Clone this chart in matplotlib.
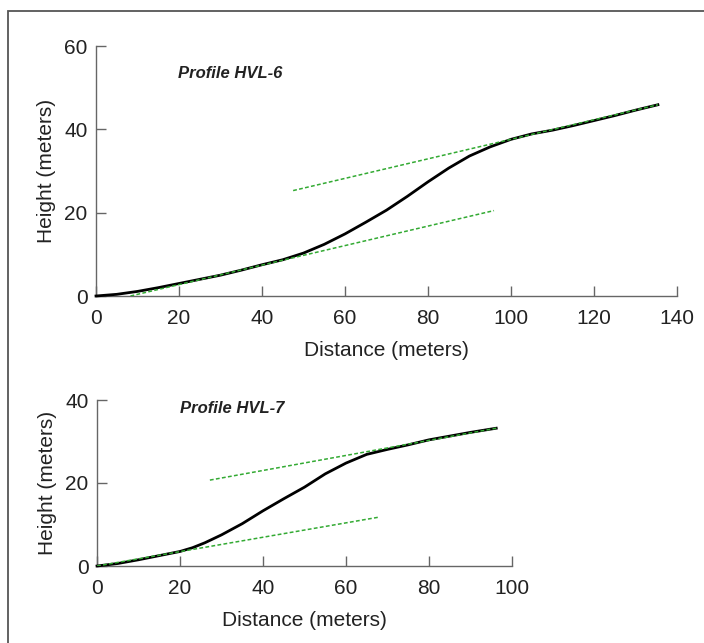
import numpy as np
import matplotlib
matplotlib.use('Agg')
import matplotlib.pyplot as plt
from matplotlib.patches import Rectangle

# Profile HVL-6
dist6 = [0, 5, 10, 15, 20, 25, 30, 35, 40, 45, 50, 55, 60, 65, 70, 75, 80, 85,
         90, 95, 100, 105, 110, 115, 120, 125, 130, 135.4]
height6 = [0, 0.4, 1.1, 2.0, 3.0, 4.0, 5.0, 6.2, 7.5, 8.7, 10.3, 12.4, 14.9, 17.7, 20.6,
           23.9, 27.4, 30.7, 33.6, 35.8, 37.6, 38.9, 39.8, 40.9, 42.1, 43.3, 44.6, 45.9]
upper6_x = [47.5, 135.4]
upper6_y = [25.3, 45.9]
lower6_x = [8.3, 95.9]
lower6_y = [0.0, 20.5]

# Profile HVL-7
dist7 = [0, 5, 10, 15, 20, 23, 26, 30, 35, 40, 45, 50, 55, 60, 65, 70, 75, 80, 85, 90, 96.2]
height7 = [0, 0.6, 1.5, 2.5, 3.5, 4.4, 5.6, 7.5, 10.2, 13.3, 16.2, 19.0, 22.2, 24.8, 26.9,
           28.1, 29.2, 30.4, 31.3, 32.2, 33.2]
upper7_x = [27.2, 96.2]
upper7_y = [20.7, 33.2]
lower7_x = [0, 68.1]
lower7_y = [0, 11.8]

xticks6 = [0, 20, 40, 60, 80, 100, 120, 140]
yticks6 = [0, 20, 40, 60]
xticks7 = [0, 20, 40, 60, 80, 100]
yticks7 = [0, 20, 40]

plt.rcParams['font.family'] = ['Liberation Sans', 'DejaVu Sans']

fig = plt.figure(figsize=(7.04, 6.43), dpi=100)
# grey frame, open at right and bottom like the source image
fig.patches.append(Rectangle((8 / 704, -0.1), 1.2, 1 - 11 / 643 + 0.1, transform=fig.transFigure,
                             fill=False, edgecolor='#555555', linewidth=1.3))

ax1 = fig.add_axes([96 / 704, 1 - 296 / 643, 581 / 704, 250 / 643])
ax2 = fig.add_axes([97 / 704, 1 - 566 / 643, 415 / 704, 166 / 643])

def style_axes(ax, xticks, yticks, title, tx, ty):
    for s in ['top', 'right']:
        ax.spines[s].set_visible(False)
    for s in ['left', 'bottom']:
        ax.spines[s].set_color('#666666')
        ax.spines[s].set_linewidth(1.0)
    ax.set_xlim(xticks[0], xticks[-1])
    ax.set_ylim(yticks[0], yticks[-1])
    ax.set_xticks(xticks)
    ax.set_yticks(yticks)
    ax.tick_params(direction='in', length=7.5, width=1.0, color='#666666',
                   labelsize=15, labelcolor='#222222')
    ax.tick_params(axis='x', pad=9)
    ax.tick_params(axis='y', pad=6)
    ax.set_xlabel('Distance (meters)', fontsize=15, color='#222222', labelpad=10)
    ax.set_ylabel('Height (meters)', fontsize=15, color='#222222', labelpad=6)
    ax.text(tx, ty, title, fontsize=12, fontweight='bold', fontstyle='italic',
            color='#222222', ha='left', va='center')
    for sp in ax.spines.values():
        sp.set_clip_on(False)

ax1.plot(dist6, height6, color='black', lw=2.0, zorder=3, clip_on=False)
ax1.plot(upper6_x, upper6_y, color='#33aa33', lw=1.1, ls=(0, (2.5, 1.5)), zorder=4)
ax1.plot(lower6_x, lower6_y, color='#33aa33', lw=1.1, ls=(0, (2.5, 1.5)), zorder=4)
style_axes(ax1, xticks6, yticks6, 'Profile HVL-6', 19.8, 53.5)

ax2.plot(dist7, height7, color='black', lw=2.0, zorder=3, clip_on=False)
ax2.plot(upper7_x, upper7_y, color='#33aa33', lw=1.1, ls=(0, (2.5, 1.5)), zorder=4)
ax2.plot(lower7_x, lower7_y, color='#33aa33', lw=1.1, ls=(0, (2.5, 1.5)), zorder=4)
style_axes(ax2, xticks7, yticks7, 'Profile HVL-7', 20, 38)

fig.savefig('out.png', dpi=100)
